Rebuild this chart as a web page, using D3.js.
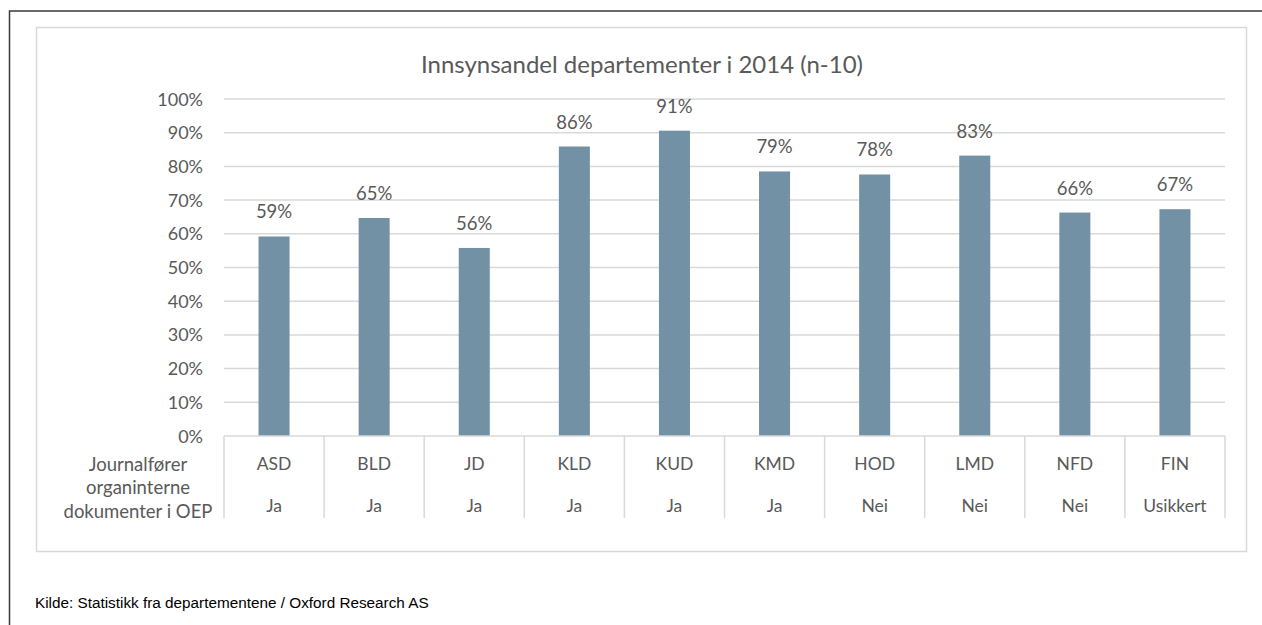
<!DOCTYPE html>
<html>
<head>
<meta charset="utf-8">
<script src="https://cdn.jsdelivr.net/npm/d3@7"></script>
<style>
  body { margin: 0; background: #fff; }
  svg text { font-family: Lato, "Open Sans", sans-serif; fill: #595959; }
  .footer { font-family: "Liberation Sans", Arial, sans-serif; fill: #000; }
</style>
</head>
<body>
<div id="vis"></div>
<script>
// data
const departments = ['ASD', 'BLD', 'JD', 'KLD', 'KUD', 'KMD', 'HOD', 'LMD', 'NFD', 'FIN'];
const journalforer = ['Ja', 'Ja', 'Ja', 'Ja', 'Ja', 'Ja', 'Nei', 'Nei', 'Nei', 'Usikkert'];
const shares = [59.2, 64.7, 55.8, 85.9, 90.6, 78.5, 77.6, 83.2, 66.3, 67.3];
const yTicks = [0, 10, 20, 30, 40, 50, 60, 70, 80, 90, 100];
const rowLabel = ['Journalfører', 'organinterne', 'dokumenter i OEP'];

const W = 1262, H = 625;
const plot = { left: 224, right: 1225, top: 99, bottom: 436 };

const svg = d3.select('#vis')
    .append('svg')
    .attr('width', W)
    .attr('height', H);

// outer frame
svg.append('path')
    .attr('d', `M9.5,${H} V11 H${W}`)
    .attr('fill', 'none')
    .attr('stroke', '#3a3a3a')
    .attr('stroke-width', 1.5);

// chart area frame
svg.append('rect')
    .attr('x', 36.5).attr('y', 27.5)
    .attr('width', 1210).attr('height', 524)
    .attr('fill', '#fff')
    .attr('stroke', '#d9d9d9')
    .attr('stroke-width', 1.5);

const xScale = d3.scaleBand()
    .domain(departments)
    .range([plot.left, plot.right])
    .paddingInner(0.69)
    .paddingOuter(0.345);

const xCat = d3.scaleBand()
    .domain(departments)
    .range([plot.left, plot.right]);

const yScale = d3.scaleLinear()
    .domain([0, 100])
    .range([plot.bottom, plot.top]);

// title
svg.append('text')
    .attr('x', 642)
    .attr('y', 73)
    .attr('text-anchor', 'middle')
    .style('font-size', '24px')
    .text('Innsynsandel departementer i 2014 (n-10)');

// gridlines
svg.append('g')
    .selectAll('line')
    .data(yTicks.filter(d => d > 0))
    .join('line')
    .attr('x1', plot.left).attr('x2', plot.right)
    .attr('y1', d => yScale(d)).attr('y2', d => yScale(d))
    .attr('stroke', '#d9d9d9')
    .attr('stroke-width', 1.5);

// y tick labels
svg.append('g')
    .selectAll('text')
    .data(yTicks)
    .join('text')
    .attr('x', 203)
    .attr('y', d => yScale(d) + 6.5)
    .attr('text-anchor', 'end')
    .style('font-size', '18px')
    .text(d => d + '%');

// bars
svg.append('g')
    .selectAll('rect')
    .data(shares)
    .join('rect')
    .attr('x', (d, i) => xScale(departments[i]))
    .attr('width', xScale.bandwidth())
    .attr('y', d => yScale(d))
    .attr('height', d => yScale(0) - yScale(d))
    .attr('fill', '#7391a5');

// value labels
svg.append('g')
    .selectAll('text')
    .data(shares)
    .join('text')
    .attr('x', (d, i) => xCat(departments[i]) + xCat.bandwidth() / 2)
    .attr('y', d => yScale(d) - 18)
    .attr('text-anchor', 'middle')
    .style('font-size', '18.5px')
    .text(d => Math.round(d) + '%');

// category table lines
const table = svg.append('g');
table.append('line')
    .attr('x1', plot.left).attr('x2', plot.right)
    .attr('y1', plot.bottom).attr('y2', plot.bottom)
    .attr('stroke', '#d9d9d9')
    .attr('stroke-width', 1.5);
table.selectAll('line.sep')
    .data(departments.map(d => xCat(d)).concat([plot.right]))
    .join('line')
    .attr('class', 'sep')
    .attr('x1', d => d).attr('x2', d => d)
    .attr('y1', plot.bottom).attr('y2', 518)
    .attr('stroke', '#d9d9d9')
    .attr('stroke-width', 1.5);

table.selectAll('text.dep')
    .data(departments)
    .join('text')
    .attr('class', 'dep')
    .attr('x', d => xCat(d) + xCat.bandwidth() / 2)
    .attr('y', 470)
    .attr('text-anchor', 'middle')
    .style('font-size', '17.5px')
    .text(d => d);

table.selectAll('text.jf')
    .data(journalforer)
    .join('text')
    .attr('class', 'jf')
    .attr('x', (d, i) => xCat(departments[i]) + xCat.bandwidth() / 2)
    .attr('y', 512)
    .attr('text-anchor', 'middle')
    .style('font-size', '17.5px')
    .text(d => d);

table.selectAll('text.row')
    .data(rowLabel)
    .join('text')
    .attr('class', 'row')
    .attr('x', 138)
    .attr('y', (d, i) => 471 + i * 23.3)
    .attr('text-anchor', 'middle')
    .style('font-size', '18.5px')
    .text(d => d);

// footer
svg.append('text')
    .attr('class', 'footer')
    .attr('x', 35)
    .attr('y', 608)
    .style('font-size', '15.3px')
    .text('Kilde: Statistikk fra departementene / Oxford Research AS');
</script>
</body>
</html>
